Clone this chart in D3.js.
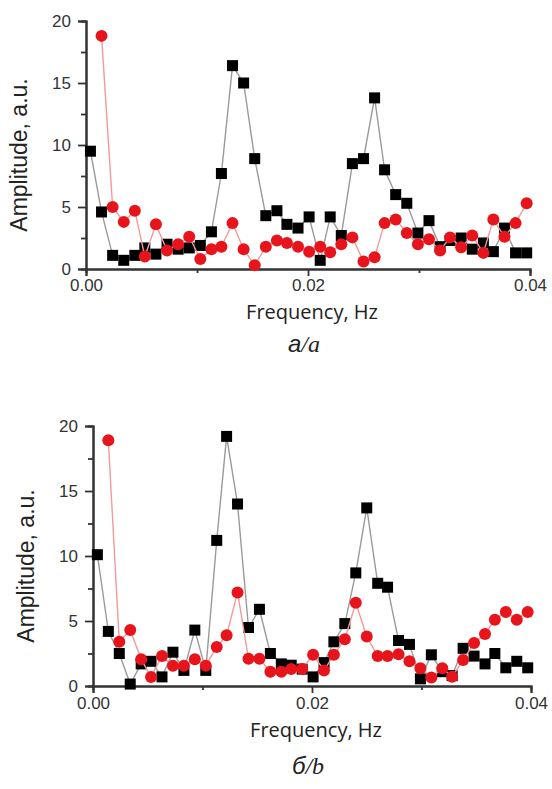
<!DOCTYPE html>
<html>
<head>
<meta charset="utf-8">
<script src="https://cdn.jsdelivr.net/npm/d3@7"></script>
<style>
  body { margin: 0; background: #fff; }
  svg { display: block; }
  .tick-label { font-family: "Liberation Sans", Arial, sans-serif; font-size: 17px; fill: #333; }
</style>
</head>
<body>
<svg id="chart" width="552" height="789"></svg>
<script>
// frequencies of the spectrum bins, Hz
var freq = [0.0004, 0.0014, 0.0024, 0.0034, 0.0044, 0.0053, 0.0063, 0.0073, 0.0083, 0.0093,
            0.0103, 0.0113, 0.0122, 0.0132, 0.0142, 0.0152, 0.0162, 0.0172, 0.0181, 0.0191,
            0.0201, 0.0211, 0.0220, 0.0230, 0.0240, 0.0250, 0.0260, 0.0269, 0.0279, 0.0289,
            0.0299, 0.0309, 0.0319, 0.0328, 0.0338, 0.0348, 0.0358, 0.0367, 0.0377, 0.0387,
            0.0397];

// panel a
var blackA = [9.5, 4.6, 1.1, 0.7, 1.1, 1.7, 1.2, 2.0, 1.6, 1.7, 1.9, 3.0, 7.7, 16.4, 15.0, 8.9,
              4.3, 4.7, 3.6, 3.3, 4.2, 0.7, 4.2, 2.7, 8.5, 8.9, 13.8, 8.0, 6.0, 5.3, 2.9, 3.9,
              1.8, 2.3, 2.5, 1.6, 2.1, 1.4, 3.3, 1.3, 1.3];
var redA = [18.8, 5.0, 3.8, 4.7, 1.0, 3.6, 1.5, 2.0, 2.6, 0.8, 1.6, 1.8, 3.7, 1.6, 0.3, 1.8,
            2.3, 2.1, 1.8, 1.4, 1.8, 1.35, 2.0, 2.55, 0.6, 0.95, 3.7, 4.0, 2.9, 2.0, 2.4, 1.5,
            2.55, 1.75, 2.7, 1.3, 4.0, 2.6, 3.7, 5.3];

// panel b
var blackB = [10.1, 4.2, 2.5, 0.15, 1.7, 1.9, 0.7, 2.6, 1.2, 4.3, 1.2, 11.2, 19.2, 14.0, 4.5, 5.9,
              2.5, 1.7, 1.6, 1.3, 0.7, 1.8, 3.4, 4.8, 8.7, 13.7, 7.9, 7.6, 3.5, 3.2, 0.55, 2.4,
              1.1, 0.8, 2.9, 2.3, 1.7, 2.5, 1.4, 1.9, 1.4];
var redB = [18.9, 3.4, 4.3, 2.05, 0.7, 2.3, 1.56, 1.56, 2.05, 1.56, 3.0, 3.9, 7.2, 2.1, 2.1, 1.1,
            1.1, 1.3, 1.3, 2.4, 1.2, 2.4, 3.6, 6.4, 3.8, 2.3, 2.3, 2.45, 1.9, 1.36, 0.65, 1.36,
            0.72, 2.0, 3.3, 4.0, 5.1, 5.7, 5.1, 5.7];

var xMajor = [0, 0.02, 0.04], xMinor = [0.01, 0.03];
var yMajor = [0, 5, 10, 15, 20], yMinor = [2.5, 7.5, 12.5, 17.5];
var xTitle = "Frequency, Hz", yTitle = "Amplitude, a.u.";

function pairs(values, offset) {
  return values.map(function(v, i) { return { f: freq[i + offset], v: v }; });
}

function renderPanel(svg, box, black, red, capSans, capSerif) {
  var x = d3.scaleLinear().domain([0, 0.04]).range([box.left, box.right]);
  var y = d3.scaleLinear().domain([0, 20]).range([box.bottom, box.top]);
  var g = svg.append("g");

  // axes
  var ax = g.append("g").attr("transform", "translate(0," + box.bottom + ")")
      .call(d3.axisBottom(x).tickValues(xMajor).tickSize(7).tickPadding(box.xPad)
            .tickFormat(d3.format(".2f")));
  ax.append("g").call(d3.axisBottom(x).tickValues(xMinor).tickSize(4).tickFormat(""));

  var ay = g.append("g").attr("transform", "translate(" + box.left + ",0)")
      .call(d3.axisLeft(y).tickValues(yMajor).tickSize(8).tickPadding(7).tickFormat(d3.format("d")));
  ay.append("g").call(d3.axisLeft(y).tickValues(yMinor).tickSize(5).tickFormat(""));

  g.selectAll(".domain").attr("stroke", "#333").attr("stroke-width", 2);
  g.selectAll(".tick line").attr("stroke", "#333").attr("stroke-width", 1.8);
  g.selectAll(".tick text").attr("class", "tick-label").attr("font-size", null).attr("font-family", null);

  // titles
  g.append("text")
      .attr("transform", "translate(" + (box.left - 59) + "," + ((box.top + box.bottom) / 2 + 10) + ") rotate(-90)")
      .attr("text-anchor", "middle")
      .style("font-family", "'Liberation Sans', Arial, sans-serif")
      .style("font-size", "23px")
      .style("fill", "#222")
      .text(yTitle);

  g.append("text")
      .attr("x", (box.left + box.right) / 2 + 4)
      .attr("y", box.titleY)
      .attr("text-anchor", "middle")
      .style("font-family", "'Open Sans', sans-serif")
      .style("font-size", "20px")
      .style("fill", "#222")
      .text(xTitle);

  var cap = g.append("text")
      .attr("x", (box.left + box.right) / 2 - 4)
      .attr("y", box.capY)
      .attr("text-anchor", "middle")
      .style("font-size", "24px")
      .style("font-style", "italic")
      .style("fill", "#222");
  cap.append("tspan").style("font-family", "'Liberation Sans', Arial, sans-serif").text(capSans);
  cap.append("tspan").style("font-family", "'Liberation Serif', serif").text("/" + capSerif);

  var line = d3.line().x(function(d) { return x(d.f); }).y(function(d) { return y(d.v); });

  var bd = pairs(black, 0), rd = pairs(red, 1);

  g.append("path").datum(bd).attr("d", line)
      .attr("fill", "none").attr("stroke", "#9a9a9a").attr("stroke-width", 1.4);
  g.selectAll(".sq").data(bd).enter().append("rect")
      .attr("class", "sq")
      .attr("x", function(d) { return x(d.f) - 5.5; })
      .attr("y", function(d) { return y(d.v) - 5.5; })
      .attr("width", 11).attr("height", 11)
      .attr("fill", "#000");

  g.append("path").datum(rd).attr("d", line)
      .attr("fill", "none").attr("stroke", "#f29a9a").attr("stroke-width", 1.4);
  g.selectAll(".dot").data(rd).enter().append("circle")
      .attr("class", "dot")
      .attr("cx", function(d) { return x(d.f); })
      .attr("cy", function(d) { return y(d.v); })
      .attr("r", 6)
      .attr("fill", "#e8141c");
}

var svg = d3.select("#chart");
renderPanel(svg, { left: 86, right: 530, top: 21, bottom: 269, xPad: 3, titleY: 319, capY: 352 },
            blackA, redA, "а", "a");
renderPanel(svg, { left: 93, right: 531, top: 426, bottom: 686, xPad: 4, titleY: 737, capY: 774 },
            blackB, redB, "б", "b");
</script>
</body>
</html>
